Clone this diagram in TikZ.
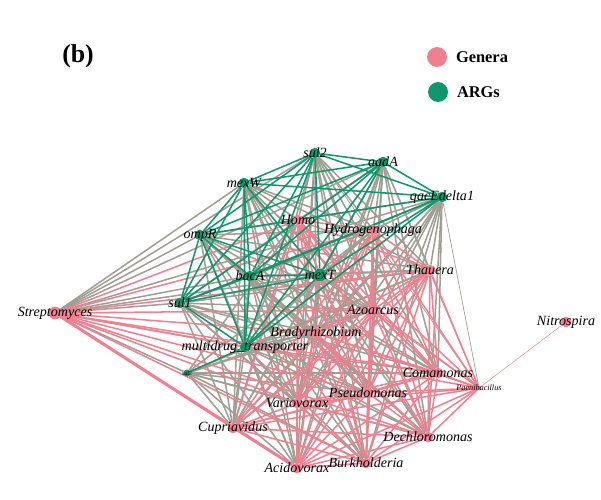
\documentclass[tikz,border=0pt]{standalone}
\usepackage{fontspec}
\setmainfont{Liberation Serif}
\usetikzlibrary{backgrounds}

\definecolor{pinkc}{RGB}{240,128,144}
\definecolor{greenc}{RGB}{16,150,108}
\definecolor{grayc}{RGB}{160,158,146}

\tikzset{
  genus/.style={circle, fill=pinkc, inner sep=0pt, minimum size=9pt},
  arg/.style={circle, fill=greenc, inner sep=0pt, minimum size=9pt},
  lab/.style={font=\itshape\fontsize{12}{12}\selectfont, inner sep=0pt},
  gg/.style={draw=pinkc, line width=1.3pt},
  ga/.style={draw=grayc, line width=1.3pt},
  aa/.style={draw=greenc, line width=1.3pt}
}

\begin{document}
\begin{tikzpicture}[x=0.03cm,y=-0.03cm]
\useasboundingbox (0,0) rectangle (601,499);

\node[font=\bfseries\fontsize{22}{22}\selectfont] (title) at (78,56) {(b)};
\node[circle, fill=pinkc, minimum size=17pt, inner sep=0pt] (legG) at (437,57) {};
\node[right=4pt, font=\bfseries\fontsize{14}{14}\selectfont] at (legG.east) {Genera};
\node[circle, fill=greenc, minimum size=17pt, inner sep=0pt] (legA) at (438,92) {};
\node[right=4pt, font=\bfseries\fontsize{14}{14}\selectfont] at (legA.east) {ARGs};

\node[arg, label={[lab]center:sul2}] (sul2) at (315,153) {};
\node[arg, label={[lab]center:aadA}] (aadA) at (383,162) {};
\node[arg, label={[lab]center:mexW}] (mexW) at (244,183) {};
\node[arg, label={[lab]center:qacEdelta1}] (qac) at (442,197) {};
\node[arg, label={[lab]center:ompR}] (ompR) at (200,235) {};
\node[arg, label={[lab]center:bacA}] (bacA) at (250,276) {};
\node[arg, minimum size=11pt, label={[lab]center:mexT}] (mexT) at (320,275) {};
\node[arg, label={[lab]center:sul1}] (sul1) at (180,303) {};
\node[arg, label={[lab]center:multidrug\_transporter}] (mdt) at (245,347) {};
\node[arg, minimum size=6pt, label={[lab,font=\itshape\fontsize{5}{5}\selectfont]center:sul3}] (sul3) at (187,373) {};

\node[genus, label={[lab]center:Homo}] (homo) at (298,220) {};
\node[genus, label={[lab]center:Hydrogenophaga}] (hydro) at (373,230) {};
\node[genus, label={[lab]center:Thauera}] (thau) at (430,270) {};
\node[genus, minimum size=11pt, label={[lab]center:Streptomyces}] (strep) at (55,313) {};
\node[genus, label={[lab]center:Azoarcus}] (azo) at (373,310) {};
\node[genus, label={[lab]center:Bradyrhizobium}] (brady) at (316,333) {};
\node[genus, label={[lab]center:Nitrospira}] (nitro) at (566,322) {};
\node[genus, label={[lab]center:Comamonas}] (coma) at (438,373) {};
\node[genus, minimum size=4pt, label={[lab,font=\itshape\fontsize{7}{7}\selectfont]center:Paenibacillus}] (paeni) at (479,388) {};
\node[genus, label={[lab]center:Pseudomonas}] (pseudo) at (368,393) {};
\node[genus, label={[lab]center:Variovorax}] (vario) at (297,403) {};
\node[genus, label={[lab]center:Cupriavidus}] (cupri) at (233,428) {};
\node[genus, label={[lab]center:Dechloromonas}] (dechlo) at (428,437) {};
\node[genus, label={[lab]center:Acidovorax}] (acido) at (297,468) {};
\node[genus, label={[lab]center:Burkholderia}] (burk) at (366,463) {};

\begin{scope}[on background layer]
\foreach \u in {sul2,aadA,mexW,qac,ompR,bacA,mexT,sul1,mdt,sul3}
  \foreach \v in {homo,hydro,thau,strep,azo,brady,coma,pseudo,vario,cupri,dechlo,acido,burk}
    \draw[ga] (\u) -- (\v);
\foreach \u in {qac,aadA,sul2,mexT}
  \draw[ga, line width=0.6pt] (\u) -- (paeni);
\foreach \u [count=\i] in {homo,hydro,thau,strep,azo,brady,coma,paeni,pseudo,vario,cupri,dechlo,acido,burk}
  \foreach \v [count=\j] in {homo,hydro,thau,strep,azo,brady,coma,paeni,pseudo,vario,cupri,dechlo,acido,burk}
    {\ifnum\j>\i \draw[gg] (\u) -- (\v); \fi}
\draw[gg, line width=2.6pt] (strep) -- (acido);
\draw[gg, line width=0.4pt] (paeni) -- (nitro);
\foreach \u [count=\i] in {sul2,aadA,mexW,qac,ompR,bacA,mexT,sul1,mdt}
  \foreach \v [count=\j] in {sul2,aadA,mexW,qac,ompR,bacA,mexT,sul1,mdt}
    {\ifnum\j>\i \draw[aa] (\u) -- (\v); \fi}
\draw[aa] (mdt) -- (sul3);
\end{scope}
\end{tikzpicture}
\end{document}
